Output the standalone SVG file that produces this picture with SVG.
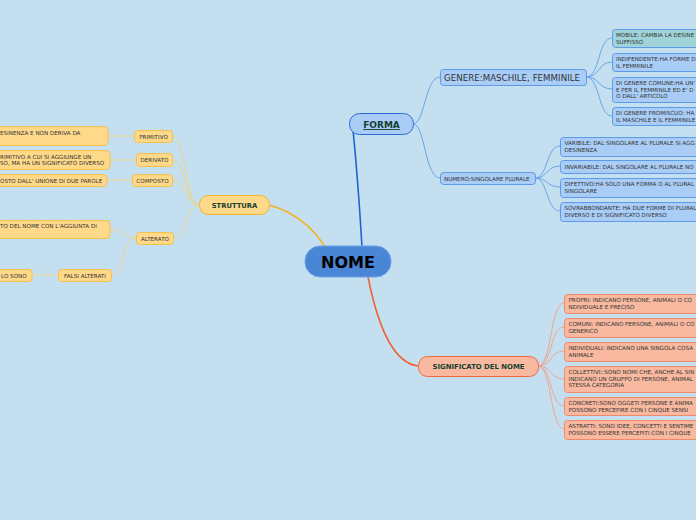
<svg xmlns="http://www.w3.org/2000/svg" width="696" height="520" viewBox="0 0 696 520">
<style>
text{font-family:"DejaVu Sans","Liberation Sans",sans-serif;fill:#333}
.leaf{font-size:5.6px}
.blue{fill:#a9cdf6;stroke:#5b9be8}
.teal{fill:#9fd3d8;stroke:#5b9be8}
.yel{fill:#ffd98a;stroke:#f5c04a}
.sal{fill:#f8b9a0;stroke:#f08a6a}
.main{font-weight:bold;fill:#153f2f}
.cb{fill:none;stroke:#6aa6e8;stroke-width:1}
.cy{fill:none;stroke:#f0d58a;stroke-width:1}
.cs{fill:none;stroke:#eea592;stroke-width:1}
</style>
<rect width="696" height="520" fill="#c4dff0"/>
<g id="connectors">
<path d="M362 247 Q358 180 353 130" fill="none" stroke="#1f64d0" stroke-width="1.6"/>
<path d="M325 247 Q305 215 269 205" fill="none" stroke="#f5b21e" stroke-width="1.6"/>
<path d="M368 277 Q385 362 418 366" fill="none" stroke="#f06030" stroke-width="1.6"/>
<path class="cb" d="M413 124 C425 124 425 77 440 77"/>
<path class="cb" d="M413 124 C425 124 425 178 440 178"/>
<path class="cb" d="M586 77 C600 77 598 38 612 38"/>
<path class="cb" d="M586 77 C600 77 598 62 612 62"/>
<path class="cb" d="M586 77 C600 77 598 89 612 89"/>
<path class="cb" d="M586 77 C600 77 598 116 612 116"/>
<path class="cb" d="M535 178 C548 178 546 146 560 146"/>
<path class="cb" d="M535 178 C548 178 546 166 560 166"/>
<path class="cb" d="M535 178 C548 178 546 187 560 187"/>
<path class="cb" d="M535 178 C548 178 546 211 560 211"/>
<path class="cs" d="M538 366 C552 366 550 303 564 303"/>
<path class="cs" d="M538 366 C552 366 550 327 564 327"/>
<path class="cs" d="M538 366 C552 366 550 351 564 351"/>
<path class="cs" d="M538 366 C552 366 550 379 564 379"/>
<path class="cs" d="M538 366 C552 366 550 406 564 406"/>
<path class="cs" d="M538 366 C552 366 550 429 564 429"/>
<path class="cy" d="M199 205 C185 205 186 136 172 136"/>
<path class="cy" d="M199 205 C185 205 186 160 172 160"/>
<path class="cy" d="M199 205 C185 205 186 180 172 180"/>
<path class="cy" d="M199 205 C185 205 186 238 173 238"/>
<path class="cy" d="M134 136 L108 136"/>
<path class="cy" d="M136 160 L110 160"/>
<path class="cy" d="M132 180 L107 180"/>
<path class="cy" d="M136 238 C124 238 122 229 110 229"/>
<path class="cy" d="M136 238 C122 238 124 275 111 275"/>
<path class="cy" d="M58 275 L32 275"/>
</g>
<g id="nome"><rect x="305" y="246" width="86" height="31" rx="15" fill="#4a86d6" stroke="#6aa3e6"/><text x="348" y="268" text-anchor="middle" style="font-size:16px;font-weight:bold;fill:#000">NOME</text></g>
<g id="forma"><rect x="349.5" y="113.5" width="64" height="21" rx="10" fill="#a9cdf6" stroke="#2a6ad6"/><text x="381.5" y="128" text-anchor="middle" class="main" style="font-size:9px;text-decoration:underline">FORMA</text></g>
<g id="struttura"><rect x="199.5" y="195.5" width="70" height="19" rx="9" class="yel" style="stroke:#f5b52a"/><text x="234.5" y="208" text-anchor="middle" class="main" style="font-size:6.8px">STRUTTURA</text></g>
<g id="significato"><rect x="418.5" y="356.5" width="120" height="20" rx="9" class="sal" style="stroke:#f06a3a"/><text x="478.5" y="369" text-anchor="middle" class="main" style="font-size:6.9px">SIGNIFICATO DEL NOME</text></g>
<g id="genere"><rect x="440.5" y="69.5" width="146" height="16" rx="3" class="blue"/><text x="444" y="80.5" style="font-size:8.7px">GENERE:MASCHILE, FEMMINILE</text></g>
<g id="numero"><rect x="440.5" y="172.5" width="95" height="12" rx="3" class="blue"/><text x="444" y="180.5" style="font-size:5.6px">NUMERO:SINGOLARE PLURALE</text></g>
<g id="mobile"><rect x="612.5" y="29.5" width="100" height="18" rx="3" class="teal"/><text class="leaf" x="616" y="37">MOBILE: CAMBIA LA DESINE</text><text class="leaf" x="616" y="43.5">SUFFISSO</text></g>
<g id="indipendente"><rect x="612.5" y="53.5" width="100" height="18" rx="3" class="blue"/><text class="leaf" x="616" y="61">INDIPENDENTE:HA FORME D</text><text class="leaf" x="616" y="67.5">IL FEMMINILE</text></g>
<g id="comune"><rect x="612.5" y="77.5" width="100" height="25" rx="3" class="blue"/><text class="leaf" x="616" y="85">DI GENERE COMUNE:HA UN'</text><text class="leaf" x="616" y="91.5">E PER IL FEMMINILE  ED E' D</text><text class="leaf" x="616" y="98">O DALL' ARTICOLO</text></g>
<g id="promiscuo"><rect x="612.5" y="107.5" width="100" height="18" rx="3" class="blue"/><text class="leaf" x="616" y="115">DI GENERE PROMISCUO: HA</text><text class="leaf" x="616" y="121.5">IL MASCHILE E IL FEMMINILE</text></g>
<g id="variabile"><rect x="560.5" y="137.5" width="150" height="19" rx="3" class="blue"/><text class="leaf" x="564.5" y="145">VARIBILE: DAL SINGOLARE AL PLURALE SI AGG</text><text class="leaf" x="564.5" y="151.5">DESINENZA</text></g>
<g id="invariabile"><rect x="560.5" y="160.5" width="150" height="13" rx="3" class="blue"/><text class="leaf" x="564.5" y="168.5">INVARIABILE: DAL SINGOLARE AL PLURALE NO</text></g>
<g id="difettivo"><rect x="560.5" y="178.5" width="150" height="19" rx="3" class="blue"/><text class="leaf" x="564.5" y="186">DIFETTIVO:HA SOLO UNA FORMA O AL PLURAL</text><text class="leaf" x="564.5" y="192.5">SINGOLARE</text></g>
<g id="sovrabbondante"><rect x="560.5" y="202.5" width="150" height="19" rx="3" class="blue"/><text class="leaf" x="564.5" y="210">SOVRABBONDANTE: HA DUE FORME DI PLURAL</text><text class="leaf" x="564.5" y="216.5">DIVERSO E DI SIGNIFICATO DIVERSO</text></g>
<g id="propri"><rect x="564.5" y="294.5" width="150" height="19" rx="3" class="sal"/><text class="leaf" x="568.5" y="302">PROPRI: INDICANO PERSONE, ANIMALI O CO</text><text class="leaf" x="568.5" y="308.5">NDIVIDUALE E PRECISO</text></g>
<g id="comuni"><rect x="564.5" y="318.5" width="150" height="19" rx="3" class="sal"/><text class="leaf" x="568.5" y="326">COMUNI: INDICANO PERSONE, ANIMALI O CO</text><text class="leaf" x="568.5" y="332.5">GENERICO</text></g>
<g id="individuali"><rect x="564.5" y="342.5" width="150" height="19" rx="3" class="sal"/><text class="leaf" x="568.5" y="350">INDIVIDUALI: INDICANO UNA SINGOLA COSA</text><text class="leaf" x="568.5" y="356.5">ANIMALE</text></g>
<g id="collettivi"><rect x="564.5" y="366.5" width="150" height="26" rx="3" class="sal"/><text class="leaf" x="568.5" y="374">COLLETTIVI::SONO NOMI CHE, ANCHE AL SIN</text><text class="leaf" x="568.5" y="380.5">INDICANO UN GRUPPO DI PERSONE, ANIMAL</text><text class="leaf" x="568.5" y="387">STESSA CATEGORIA</text></g>
<g id="concreti"><rect x="564.5" y="397.5" width="150" height="18" rx="3" class="sal"/><text class="leaf" x="568.5" y="405">CONCRETI:SONO OGGETI  PERSONE E ANIMA</text><text class="leaf" x="568.5" y="411.5">POSSONO PERCEPIRE CON I CINQUE SENSI</text></g>
<g id="astratti"><rect x="564.5" y="420.5" width="150" height="19" rx="3" class="sal"/><text class="leaf" x="568.5" y="428">ASTRATTI: SONO IDEE, CONCETTI E SENTIME</text><text class="leaf" x="568.5" y="434.5">POSSONO ESSERE PERCEPITI CON I CINQUE</text></g>
<g id="primitivo"><rect x="134.5" y="130.5" width="38" height="12" rx="3" class="yel"/><text class="leaf" x="153.5" y="138.5" text-anchor="middle">PRIMITIVO</text></g>
<g id="derivato"><rect x="136.5" y="153.5" width="36" height="13" rx="3" class="yel"/><text class="leaf" x="154.5" y="162" text-anchor="middle">DERIVATO</text></g>
<g id="composto"><rect x="132.5" y="174.5" width="40" height="12" rx="3" class="yel"/><text class="leaf" x="152.5" y="182.5" text-anchor="middle">COMPOSTO</text></g>
<g id="alterato"><rect x="136.5" y="232.5" width="37" height="12" rx="3" class="yel"/><text class="leaf" x="155" y="240.5" text-anchor="middle">ALTERATO</text></g>
<g id="falsi"><rect x="58.5" y="269.5" width="53" height="12" rx="3" class="yel"/><text class="leaf" x="85" y="277.5" text-anchor="middle">FALSI ALTERATI</text></g>
<g id="leaf-primitivo"><rect x="-20" y="126.5" width="128" height="19" rx="4" class="yel"/><text class="leaf" x="0" y="134.5">ESINENZA E NON DERIVA DA</text></g>
<g id="leaf-derivato"><rect x="-20" y="150.5" width="130" height="19" rx="4" class="yel"/><text class="leaf" x="0" y="158.5">RIMITIVO A CUI SI  AGGIUNGE UN</text><text class="leaf" x="0" y="165">SO, MA HA UN SIGNIFICATO DIVERSO</text></g>
<g id="leaf-composto"><rect x="-20" y="174.5" width="127" height="12" rx="4" class="yel"/><text class="leaf" x="0" y="182.5">OSTO  DALL' UNIONE DI DUE PAROLE</text></g>
<g id="leaf-alterato"><rect x="-20" y="220.5" width="130" height="18" rx="4" class="yel"/><text class="leaf" x="0" y="228">TO DEL NOME CON L'AGGIUNTA DI</text></g>
<g id="leaf-falsi"><rect x="-20" y="269.5" width="52" height="12" rx="3" class="yel"/><text class="leaf" x="1" y="277.5">LO SONO</text></g>
</svg>
